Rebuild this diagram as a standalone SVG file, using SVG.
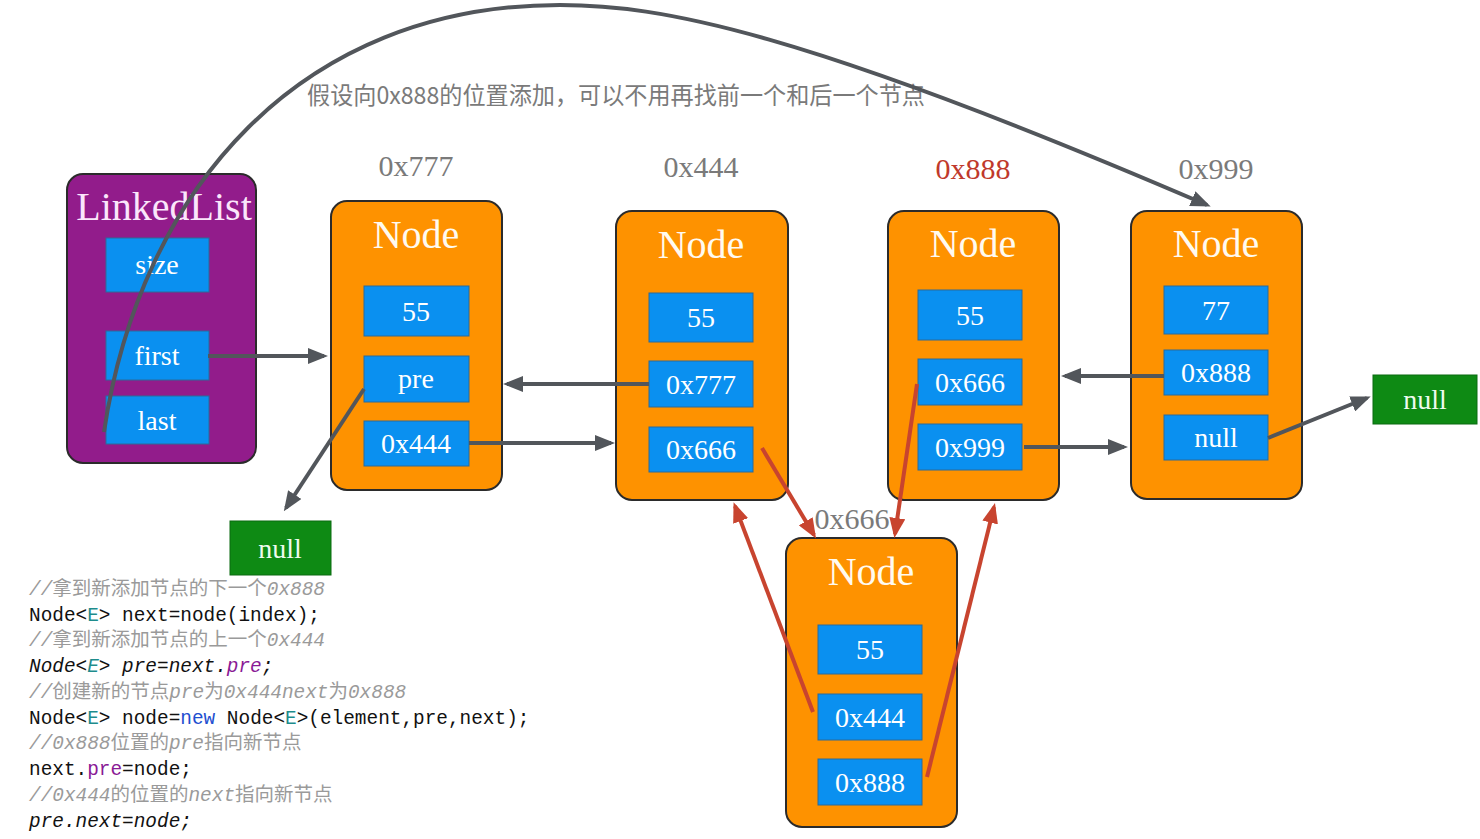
<svg xmlns="http://www.w3.org/2000/svg" width="1480" height="839" viewBox="0 0 1480 839">
<defs>
<style>
.node{fill:#FE9200;stroke:#2b2b2b;stroke-width:2}
.ll{fill:#921C8B;stroke:#2b2b2b;stroke-width:2}
.fld{fill:#0A90F0;stroke:#2a6a9a;stroke-width:1}
.nul{fill:#0E8A14;stroke:#0a6a10;stroke-width:1}
.ft{font-family:"Liberation Serif",serif;font-size:28px;fill:#ffffff;text-anchor:middle}
.nt{font-family:"Liberation Serif",serif;font-size:40px;fill:#fffaf0;text-anchor:middle}
.addr{font-family:"Liberation Serif",serif;font-size:30px;fill:#7a7a7a;text-anchor:middle}
.gl{stroke:#52565b;stroke-width:4;fill:none}
.rl{stroke:#C8442F;stroke-width:4;fill:none}
.code{font-family:"Liberation Mono",monospace;font-size:19.4px;fill:#111}
.cm{fill:#9a9a9a;font-style:italic}
.cjk{font-family:"Noto Sans CJK SC",sans-serif;font-style:normal;font-size:19.5px}
.ty{fill:#1E8C8C}
.kw{fill:#1F4FD0}
.fd{fill:#8A1A96}
</style>
<marker id="ag" viewBox="0 0 20 16" refX="16" refY="8" markerWidth="20" markerHeight="16" markerUnits="userSpaceOnUse" orient="auto"><path d="M0,0 L20,8 L0,16 z" fill="#52565b"/></marker>
<marker id="ar" viewBox="0 0 20 16" refX="16" refY="8" markerWidth="20" markerHeight="16" markerUnits="userSpaceOnUse" orient="auto"><path d="M0,0 L20,8 L0,16 z" fill="#C8442F"/></marker>
</defs>
<rect width="1480" height="839" fill="#ffffff"/>

<text id="title" x="307" y="104" font-family="Noto Sans CJK SC,sans-serif" font-size="24" fill="#7a7a7a" textLength="618" lengthAdjust="spacingAndGlyphs">假设向0x888的位置添加，可以不用再找前一个和后一个节点</text>

<g id="linkedlist">
<rect class="ll" x="67" y="174" width="189" height="289" rx="16"/>
<text x="164" y="220" font-family="Liberation Serif,serif" font-size="40" fill="#fbe6fb" text-anchor="middle">LinkedList</text>
<rect class="fld" x="106" y="238" width="103" height="54"/><text class="ft" x="157" y="274">size</text>
<rect class="fld" x="106" y="331" width="103" height="49"/><text class="ft" x="157" y="365">first</text>
<rect class="fld" x="106" y="396" width="103" height="48"/><text class="ft" x="157" y="430">last</text>
</g>

<g id="node777">
<text class="addr" x="416" y="176">0x777</text>
<rect class="node" x="331" y="201" width="171" height="289" rx="16"/>
<text class="nt" x="416" y="248">Node</text>
<rect class="fld" x="364" y="286" width="105" height="50"/><text class="ft" x="416" y="321">55</text>
<rect class="fld" x="364" y="356" width="105" height="46"/><text class="ft" x="416" y="388">pre</text>
<rect class="fld" x="364" y="421" width="105" height="45"/><text class="ft" x="416" y="453">0x444</text>
</g>

<g id="node444">
<text class="addr" x="701" y="177">0x444</text>
<rect class="node" x="616" y="211" width="172" height="289" rx="16"/>
<text class="nt" x="701" y="258">Node</text>
<rect class="fld" x="649" y="293" width="104" height="49"/><text class="ft" x="701" y="327">55</text>
<rect class="fld" x="649" y="361" width="104" height="46"/><text class="ft" x="701" y="394">0x777</text>
<rect class="fld" x="649" y="427" width="104" height="45"/><text class="ft" x="701" y="459">0x666</text>
</g>

<g id="node888">
<text class="addr" x="973" y="179" style="fill:#C0392B">0x888</text>
<rect class="node" x="888" y="211" width="171" height="289" rx="16"/>
<text class="nt" x="973" y="257">Node</text>
<rect class="fld" x="918" y="290" width="104" height="50"/><text class="ft" x="970" y="325">55</text>
<rect class="fld" x="918" y="359" width="104" height="46"/><text class="ft" x="970" y="392">0x666</text>
<rect class="fld" x="918" y="424" width="104" height="46"/><text class="ft" x="970" y="457">0x999</text>
</g>

<g id="node999">
<text class="addr" x="1216" y="179">0x999</text>
<rect class="node" x="1131" y="211" width="171" height="288" rx="16"/>
<text class="nt" x="1216" y="257">Node</text>
<rect class="fld" x="1164" y="286" width="104" height="48"/><text class="ft" x="1216" y="320">77</text>
<rect class="fld" x="1164" y="350" width="104" height="45"/><text class="ft" x="1216" y="382">0x888</text>
<rect class="fld" x="1164" y="415" width="104" height="45"/><text class="ft" x="1216" y="447">null</text>
</g>

<g id="node666">
<text class="addr" x="852" y="529">0x666</text>
<rect class="node" x="786" y="538" width="171" height="289" rx="16"/>
<text class="nt" x="871" y="585">Node</text>
<rect class="fld" x="818" y="625" width="104" height="49"/><text class="ft" x="870" y="659">55</text>
<rect class="fld" x="818" y="694" width="104" height="46"/><text class="ft" x="870" y="727">0x444</text>
<rect class="fld" x="818" y="759" width="104" height="46"/><text class="ft" x="870" y="792">0x888</text>
</g>

<g id="null-left">
<rect class="nul" x="230" y="521" width="101" height="54"/><text class="ft" x="280" y="558" style="fill:#eefbee">null</text>
</g>
<g id="null-right">
<rect class="nul" x="1373" y="375" width="104" height="49"/><text class="ft" x="1425" y="409" style="fill:#eefbee">null</text>
</g>

<g id="connectors">
<path class="gl" d="M104,432 C140,190 300,5 560,5 C660,5 800,30 1207,205" marker-end="url(#ag)"/>
<line class="gl" x1="208" y1="356" x2="324" y2="356" marker-end="url(#ag)"/>
<line class="gl" x1="649" y1="384" x2="507" y2="384" marker-end="url(#ag)"/>
<line class="gl" x1="364" y1="389" x2="286" y2="508" marker-end="url(#ag)"/>
<line class="gl" x1="469" y1="443" x2="611" y2="443" marker-end="url(#ag)"/>
<line class="gl" x1="1024" y1="447" x2="1124" y2="447" marker-end="url(#ag)"/>
<line class="gl" x1="1164" y1="376" x2="1065" y2="376" marker-end="url(#ag)"/>
<line class="gl" x1="1268" y1="438" x2="1367" y2="398" marker-end="url(#ag)"/>
<line class="rl" x1="762" y1="448" x2="814" y2="535" marker-end="url(#ar)"/>
<line class="rl" x1="917" y1="384" x2="895" y2="534" marker-end="url(#ar)"/>
<line class="rl" x1="813" y1="712" x2="735" y2="506" marker-end="url(#ar)"/>
<line class="rl" x1="927" y1="777" x2="994" y2="507" marker-end="url(#ar)"/>
</g>

<g id="code" class="code">
<text x="29" y="595"><tspan class="cm">//<tspan class="cjk">拿到新添加节点的下一个</tspan>0x888</tspan></text>
<text x="29" y="621">Node&lt;<tspan class="ty">E</tspan>&gt; next=node(index);</text>
<text x="29" y="646"><tspan class="cm">//<tspan class="cjk">拿到新添加节点的上一个</tspan>0x444</tspan></text>
<text x="29" y="672" font-style="italic">Node&lt;<tspan class="ty">E</tspan>&gt; pre=next.<tspan class="fd">pre</tspan>;</text>
<text x="29" y="698"><tspan class="cm">//<tspan class="cjk">创建新的节点</tspan>pre<tspan class="cjk">为</tspan>0x444next<tspan class="cjk">为</tspan>0x888</tspan></text>
<text x="29" y="724">Node&lt;<tspan class="ty">E</tspan>&gt; node=<tspan class="kw">new</tspan> Node&lt;<tspan class="ty">E</tspan>&gt;(element,pre,next);</text>
<text x="29" y="749"><tspan class="cm">//0x888<tspan class="cjk">位置的</tspan>pre<tspan class="cjk">指向新节点</tspan></tspan></text>
<text x="29" y="775">next.<tspan class="fd">pre</tspan>=node;</text>
<text x="29" y="801"><tspan class="cm">//0x444<tspan class="cjk">的位置的</tspan>next<tspan class="cjk">指向新节点</tspan></tspan></text>
<text x="29" y="827" font-style="italic">pre.next=node;</text>
</g>
</svg>
